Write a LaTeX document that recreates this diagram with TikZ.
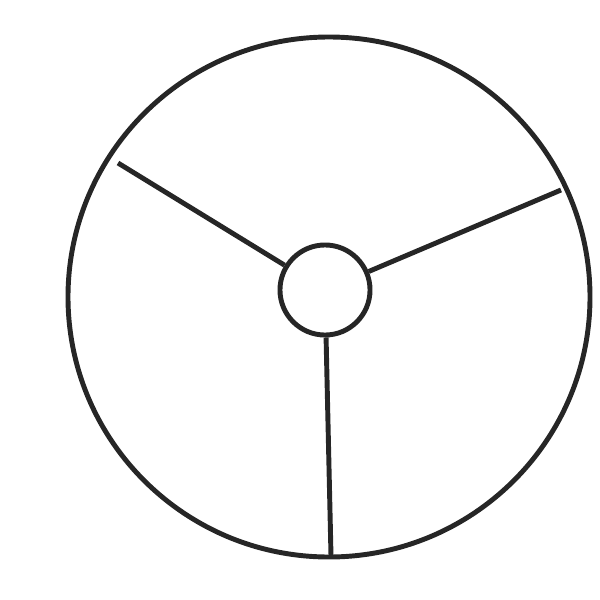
\documentclass[tikz,border=0pt]{standalone}
\usepackage{tikz}

\begin{document}
\begin{tikzpicture}[x=0.01cm,y=-0.01cm]
\tikzset{rim/.style={line width=1.4pt, black!85}}
\useasboundingbox (0,0) rectangle (600,600);
\draw [rim] (329,297) ellipse (261 and 260);
\node [rim, draw, circle, minimum size=0.9cm, inner sep=0pt] (hub) at (325,290) {};
\coordinate (ul) at (118,163);
\coordinate (ur) at (561,190);
\coordinate (bt) at (331,556);
\draw [rim] (hub) -- (ul);
\draw [rim] (hub) -- (ur);
\draw [rim] (hub) -- (bt);
\end{tikzpicture}
\end{document}
